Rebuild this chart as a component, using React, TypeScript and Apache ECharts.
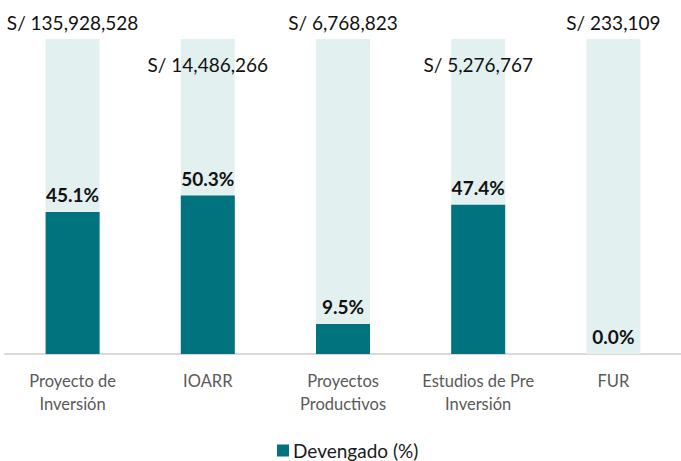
import React, { useEffect, useRef } from "react";
import * as echarts from "echarts";

const categories = ["Proyecto de\nInversión", "IOARR", "Proyectos\nProductivos", "Estudios de Pre\nInversión", "FUR"];
const devengadoPct = [45.1, 50.3, 9.5, 47.4, 0.0];
const fullScale = [100, 100, 100, 100, 100];
const amounts = [135928528, 14486266, 6768823, 5276767, 233109];
const seriesName = "Devengado (%)";

const DARK = "#00737F";
const LIGHT = "#E3F0F0";
const FONT = "Lato";

export default function App() {
  const ref = useRef<HTMLDivElement>(null);
  useEffect(() => {
    if (!ref.current) return;
    const chart = echarts.init(ref.current, undefined, { renderer: "svg" });
    const fmtAmount = (v: number) => "S/ " + v.toLocaleString("en-US");
    chart.setOption({
      animation: false,
      textStyle: { fontFamily: FONT },
      grid: { left: 5, right: -4, top: 39, bottom: 107, containLabel: false },
      legend: {
        data: [seriesName],
        left: 272,
        top: 436,
        icon: "rect",
        itemWidth: 12,
        itemHeight: 12,
        itemGap: 5,
        textStyle: { fontFamily: FONT, fontSize: 19, color: "#1a1a1a", padding: [0, 0, 0, -1] },
      },
      xAxis: {
        type: "category",
        data: categories,
        axisLine: { lineStyle: { color: "#D9D9D9", width: 2 } },
        axisTick: { show: false },
        axisLabel: {
          fontFamily: FONT,
          fontSize: 16.5,
          color: "#595959",
          lineHeight: 23,
          margin: 15,
          interval: 0,
        },
      },
      yAxis: { type: "value", min: 0, max: 100, show: false, splitLine: { show: false } },
      series: [
        {
          name: "Total",
          type: "bar",
          barWidth: 54,
          data: fullScale.map((v, i) => ({
            value: v,
            label: {
              show: true,
              position: i % 2 === 1 ? "insideTop" : "top",
              distance: i % 2 === 1 ? 16 : 7,
              formatter: () => fmtAmount(amounts[i]),
              fontFamily: FONT,
              fontSize: 19,
              color: "#111",
            },
          })),
          itemStyle: { color: LIGHT },
          silent: true,
          z: 1,
        },
        {
          name: seriesName,
          type: "bar",
          barWidth: 54,
          barGap: "-100%",
          data: devengadoPct,
          itemStyle: { color: DARK },
          label: {
            show: true,
            position: "top",
            distance: 8,
            formatter: (p: any) => Number(p.value).toFixed(1) + "%",
            fontFamily: FONT,
            fontSize: 19,
            fontWeight: "bold",
            color: "#111",
          },
          z: 2,
        },
      ],
    });
    return () => chart.dispose();
  }, []);
  return <div ref={ref} style={{ width: 681, height: 461, position: "absolute", left: 0, top: 0 }} />;
}
